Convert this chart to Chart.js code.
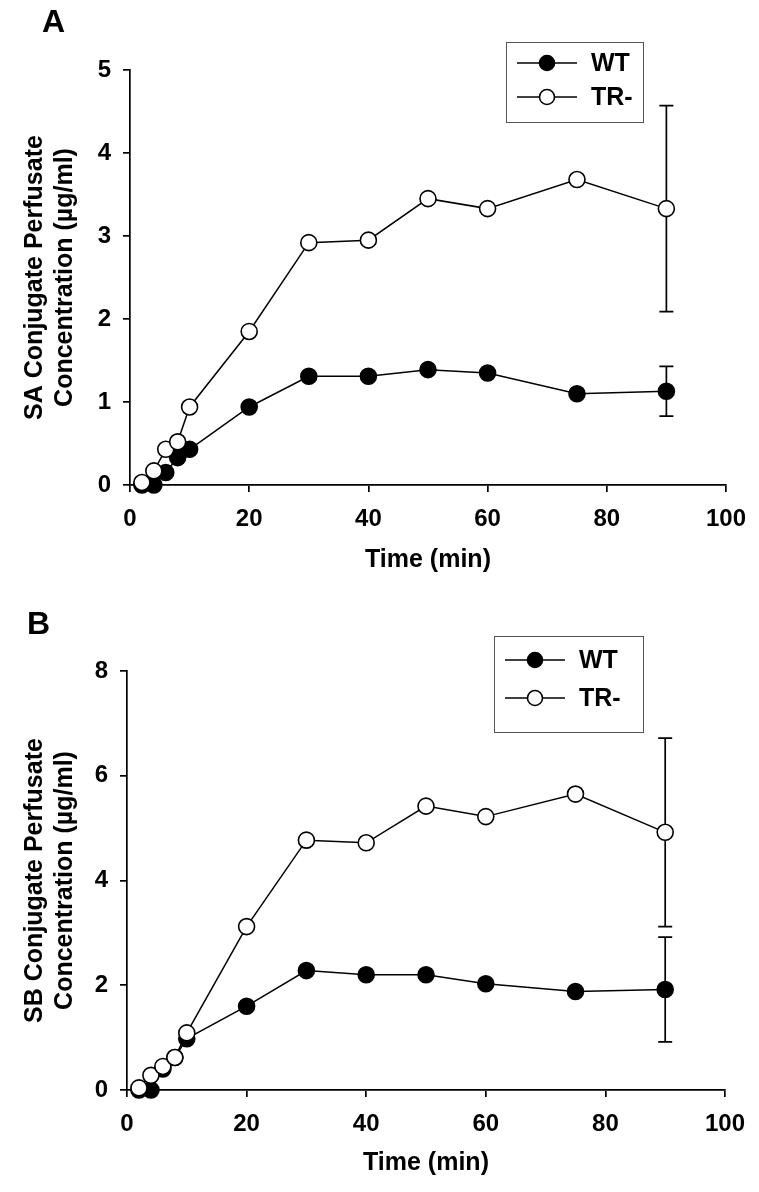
<!DOCTYPE html>
<html>
<head>
<meta charset="utf-8">
<script src="https://cdn.jsdelivr.net/npm/chart.js@4"></script>
<style>
body{margin:0;background:#fff;width:759px;height:1192px;overflow:hidden;position:relative;font-family:"Liberation Sans",Arial,sans-serif}
.panel{position:absolute;left:0;width:759px}
#wrapA{top:0;height:580px}
#wrapB{top:590px;height:602px}
.tag{position:absolute;font-weight:bold;font-size:32px;line-height:1;color:#000}
</style>
</head>
<body>
<div class="panel" id="wrapA"><canvas id="chartA"></canvas></div>
<div class="panel" id="wrapB"><canvas id="chartB"></canvas></div>
<div class="tag" style="left:42px;top:5px">A</div>
<div class="tag" style="left:27px;top:607px">B</div>
<script>
// 数据
const times = [2, 4, 6, 8, 10, 20, 30, 40, 50, 60, 75, 90]
const saWT = [0, 0, 0.15, 0.33, 0.43, 0.94, 1.31, 1.31, 1.39, 1.35, 1.10, 1.13]
const saTR = [0.03, 0.17, 0.43, 0.52, 0.94, 1.85, 2.92, 2.95, 3.45, 3.33, 3.68, 3.33]
const saWTerr = [null, null, null, null, null, null, null, null, null, null, null, 0.30]
const saTRerr = [null, null, null, null, null, null, null, null, null, null, null, 1.24]
const sbWT = [0, 0, 0.40, 0.62, 0.98, 1.60, 2.28, 2.20, 2.20, 2.03, 1.88, 1.92]
const sbTR = [0.04, 0.28, 0.45, 0.62, 1.09, 3.12, 4.77, 4.72, 5.42, 5.22, 5.65, 4.92]
const sbWTerr = [null, null, null, null, null, null, null, null, null, null, null, 1.00]
const sbTRerr = [null, null, null, null, null, null, null, null, null, null, null, 1.80]
const xTicks = [0, 20, 40, 60, 80, 100]
const legendNames = ['WT', 'TR-']

const FONT = '"Liberation Sans", Arial, sans-serif'

// 误差线
const errorBars = {
    id: 'errorBars',
    beforeDatasetsDraw(chart) {
        const {ctx, scales: {x, y}} = chart
        ctx.save()
        ctx.strokeStyle = '#000'
        ctx.lineWidth = 1.7
        chart.data.datasets.forEach(ds => {
            if (!ds.err) return
            ds.data.forEach((p, i) => {
                const e = ds.err[i]
                if (e == null) return
                const px = x.getPixelForValue(p.x)
                const top = y.getPixelForValue(p.y + e)
                const bot = y.getPixelForValue(p.y - e)
                ctx.beginPath()
                ctx.moveTo(px, top); ctx.lineTo(px, bot)
                ctx.moveTo(px - 7, top); ctx.lineTo(px + 7, top)
                ctx.moveTo(px - 7, bot); ctx.lineTo(px + 7, bot)
                ctx.stroke()
            })
        })
        ctx.restore()
    }
}

// 图例框
const boxLegend = {
    id: 'boxLegend',
    afterDraw(chart, args, opts) {
        const {ctx} = chart
        ctx.save()
        ctx.strokeStyle = '#555'
        ctx.lineWidth = 1
        ctx.strokeRect(opts.left + 0.5, opts.top + 0.5, opts.width, opts.height)
        legendNames.forEach((name, i) => {
            const yy = opts.top + opts.rows[i]
            const x1 = opts.left + 11, x2 = x1 + 60, xm = (x1 + x2) / 2
            ctx.strokeStyle = '#000'
            ctx.lineWidth = 1.5
            ctx.beginPath(); ctx.moveTo(x1, yy); ctx.lineTo(x2, yy); ctx.stroke()
            ctx.beginPath(); ctx.arc(xm, yy, 7.5, 0, Math.PI * 2)
            ctx.fillStyle = i === 0 ? '#000' : '#fff'
            ctx.fill()
            ctx.lineWidth = 1.6
            ctx.stroke()
            ctx.fillStyle = '#000'
            ctx.font = 'bold 25px ' + FONT
            ctx.textBaseline = 'middle'
            ctx.fillText(name, x2 + 14, yy + 1)
        })
        ctx.restore()
    }
}

function makeChart(id, wt, tr, wtErr, trErr, yMax, yStep, yTitle, area, legend) {
    const pts = arr => arr.map((v, i) => ({x: times[i], y: v}))
    const line = {borderColor: '#000', borderWidth: 1.5, tension: 0, pointRadius: 8,
        pointBorderColor: '#000', pointBorderWidth: 1.6, clip: false}
    return new Chart(document.getElementById(id), {
        type: 'line',
        data: {
            datasets: [
                Object.assign({label: 'WT', data: pts(wt), err: wtErr, pointBackgroundColor: '#000', order: 1}, line),
                Object.assign({label: 'TR-', data: pts(tr), err: trErr, pointBackgroundColor: '#fff', order: 0}, line)
            ]
        },
        options: {
            responsive: true,
            maintainAspectRatio: false,
            animation: false,
            layout: {padding: {top: area.top, right: area.right, left: 0, bottom: 0}},
            plugins: {legend: {display: false}, tooltip: {enabled: false}, boxLegend: legend},
            scales: {
                x: {
                    type: 'linear', min: 0, max: 100,
                    afterBuildTicks: s => { s.ticks = xTicks.map(v => ({value: v})) },
                    afterFit: s => { s.height = area.xh },
                    border: {display: true, color: '#000', width: 1.7},
                    grid: {drawOnChartArea: false, drawTicks: true, tickLength: 7, color: '#000', lineWidth: 1.7},
                    ticks: {color: '#000', padding: 13, maxRotation: 0, font: {family: FONT, size: 24, weight: 'bold'}},
                    title: {display: true, text: 'Time (min)', color: '#000', padding: {top: 0, bottom: area.xtp},
                        font: {family: FONT, size: 25, weight: 'bold', lineHeight: 1.2}}
                },
                y: {
                    min: 0, max: yMax,
                    afterFit: s => { s.width = area.left },
                    border: {display: true, color: '#000', width: 1.7},
                    grid: {drawOnChartArea: false, drawTicks: true, tickLength: 7, color: '#000', lineWidth: 1.7},
                    ticks: {stepSize: yStep, color: '#000', padding: 12, font: {family: FONT, size: 24, weight: 'bold'}},
                    title: {display: true, text: yTitle, color: '#000', padding: {top: area.ytp, bottom: 0},
                        font: {family: FONT, size: 25, weight: 'bold', lineHeight: 1.2}}
                }
            }
        },
        plugins: [errorBars, boxLegend]
    })
}

makeChart('chartA', saWT, saTR, saWTerr, saTRerr, 5, 1,
    ['SA Conjugate Perfusate', 'Concentration (\u00b5g/ml)'],
    {top: 70, right: 30, left: 130, xh: 95, xtp: 5, ytp: 20},
    {left: 506, top: 42, width: 137, height: 80, rows: [21, 55]})

makeChart('chartB', sbWT, sbTR, sbWTerr, sbTRerr, 8, 2,
    ['SB Conjugate Perfusate', 'Concentration (\u00b5g/ml)'],
    {top: 81, right: 34, left: 127, xh: 102, xtp: 14, ytp: 20},
    {left: 494, top: 46, width: 149, height: 96, rows: [24, 62]})
</script>
</body>
</html>
